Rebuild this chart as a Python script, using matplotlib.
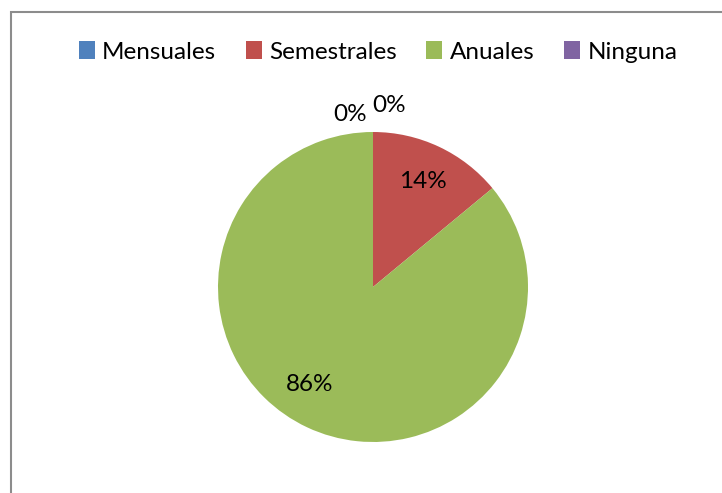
#!/usr/bin/env python3
# Pie chart: frecuencia (Mensuales / Semestrales / Anuales / Ninguna)

import matplotlib.pyplot as plt
from matplotlib.patches import Rectangle

plt.rcParams['font.family'] = ['Lato', 'DejaVu Sans']

# Data
categories = ["Mensuales", "Semestrales", "Anuales", "Ninguna"]
values = [0, 14, 86, 0]
colors = ["#4F81BD", "#C0504D", "#9BBB59", "#8064A2"]

fig = plt.figure(figsize=(7.22, 4.93), dpi=100)

# chart frame (Excel style, cut off at right and bottom)
fig.patches.append(Rectangle((10.5 / 722, -0.05), 1.1, 1 - 11.5 / 493 + 0.05,
                             transform=fig.transFigure, fill=False,
                             edgecolor="#8c8c8c", linewidth=1.5))

ax = fig.add_axes([(373 - 155) / 722, 1 - (287 + 155) / 493, 310 / 722, 310 / 493])
wedges, texts, autotexts = ax.pie(values, colors=colors, startangle=90,
                                  counterclock=False, autopct='%1.0f%%',
                                  pctdistance=0.75,
                                  textprops={'fontsize': 17.5, 'color': 'black'})
ax.set_xlim(-1, 1)
ax.set_ylim(-1, 1)
ax.set_aspect('equal')

# label placement like Excel's best fit
autotexts[0].set_position((-0.15, 1.115))
autotexts[3].set_position((0.105, 1.17))
autotexts[2].set_position((-0.41, -0.63))

fig.legend(wedges, categories, loc='center', bbox_to_anchor=(378 / 722, 1 - 52 / 493),
           ncol=4, frameon=False, fontsize=17.5, handlelength=0.66, handleheight=0.74,
           handletextpad=0.3, columnspacing=1.22)

fig.savefig("out.png", dpi=100)
